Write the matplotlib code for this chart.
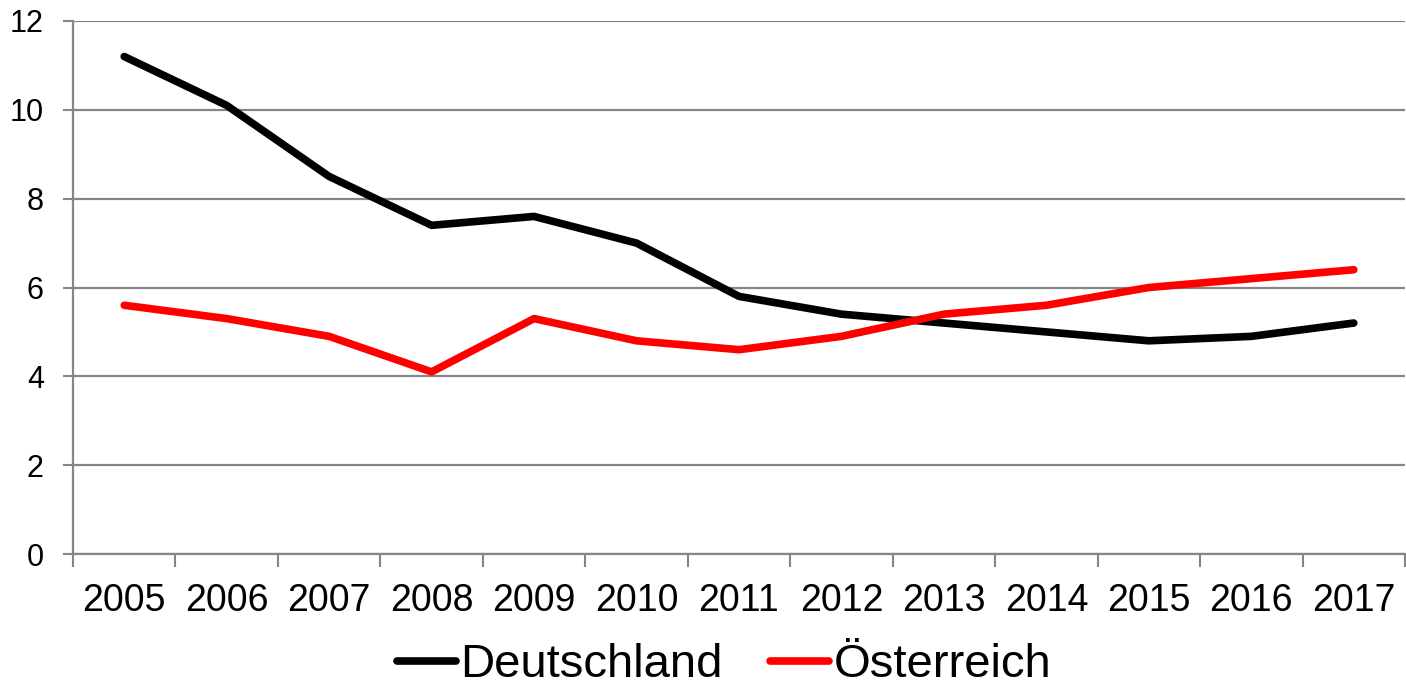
import matplotlib
matplotlib.use("Agg")
import matplotlib.pyplot as plt
from matplotlib.ticker import FixedLocator

plt.rcParams['font.family'] = ['Liberation Sans', 'DejaVu Sans']

years = ['2005', '2006', '2007', '2008', '2009', '2010', '2011',
         '2012', '2013', '2014', '2015', '2016', '2017']
deutschland = [11.2, 10.1, 8.5, 7.4, 7.6, 7.0, 5.8, 5.4, 5.2, 5.0, 4.8, 4.9, 5.2]
oesterreich = [5.6, 5.3, 4.9, 4.1, 5.3, 4.8, 4.6, 4.9, 5.4, 5.6, 6.0, 6.2, 6.4]
y_ticks = [0, 2, 4, 6, 8, 10, 12]

fig = plt.figure(figsize=(14.06, 6.91), dpi=100)
ax = fig.add_axes([73/1406, 1 - 554/691, (1405 - 73)/1406, (554 - 21)/691])

x = list(range(len(years)))
ax.plot(x, deutschland, color='black', lw=5.5, solid_capstyle='round',
        solid_joinstyle='round', label='Deutschland', zorder=3)
ax.plot(x, oesterreich, color='#ff0000', lw=5.5, solid_capstyle='round',
        solid_joinstyle='round', label='Österreich', zorder=3)

ax.set_xlim(-0.5, len(years) - 0.5)
ax.set_ylim(0, 12)
ax.set_yticks(y_ticks)
ax.set_yticklabels([str(v) for v in y_ticks], fontsize=22)
ax.set_xticks(x)
ax.set_xticklabels(years, fontsize=27)
ax.xaxis.set_minor_locator(FixedLocator([i - 0.5 for i in range(len(years) + 1)]))
ax.tick_params(axis='x', which='major', length=0, pad=21)
ax.tick_params(axis='x', which='minor', length=9, width=1.5, color='#868686')
ax.tick_params(axis='y', which='major', length=7, width=1.5, color='#868686', pad=14)

ax.grid(axis='y', color='#868686', lw=1.6, zorder=1)
ax.set_axisbelow(True)
for s in ['top', 'right']:
    ax.spines[s].set_visible(False)
for s in ['left', 'bottom']:
    ax.spines[s].set_color('#868686')
    ax.spines[s].set_linewidth(1.6)

fig.legend(loc='lower center', bbox_to_anchor=(0.515, -0.022), ncol=2, frameon=False,
           fontsize=34, handlelength=1.25, handletextpad=0.1, columnspacing=1.0,
           borderaxespad=0)

fig.savefig('out.png', dpi=100)
